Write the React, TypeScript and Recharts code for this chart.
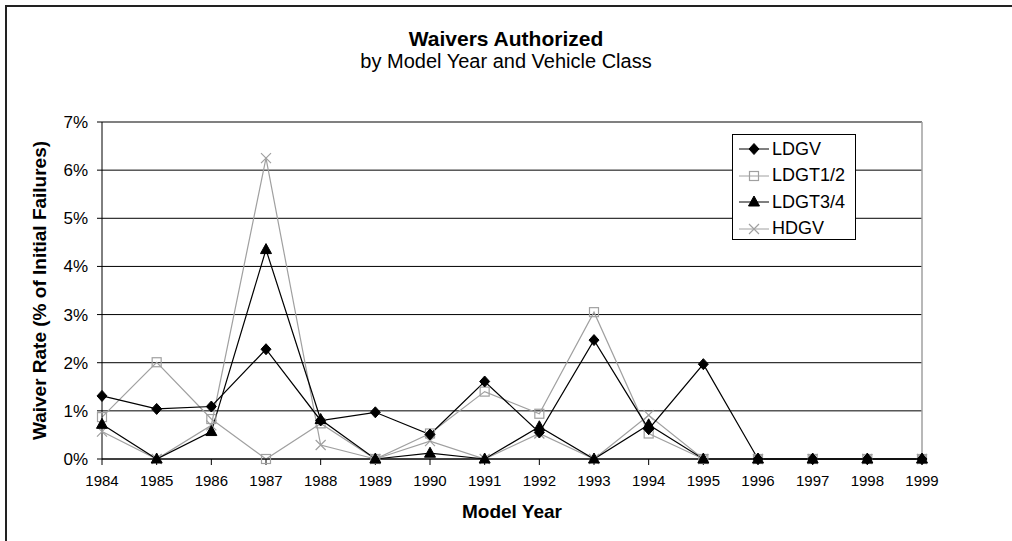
import React from 'react';
import { LineChart, Line, XAxis, YAxis, CartesianGrid, Legend, ReferenceLine } from 'recharts';

const years = ['1984', '1985', '1986', '1987', '1988', '1989', '1990', '1991', '1992', '1993', '1994', '1995', '1996', '1997', '1998', '1999'];
const ldgv = [1.31, 1.04, 1.09, 2.28, 0.8, 0.97, 0.51, 1.61, 0.55, 2.47, 0.62, 1.97, 0, 0, 0, 0];
const ldgt12 = [0.87, 2.01, 0.83, 0, 0.74, 0, 0.53, 1.4, 0.94, 3.05, 0.53, 0, 0, 0, 0, 0];
const ldgt34 = [0.72, 0, 0.57, 4.35, 0.82, 0, 0.12, 0, 0.67, 0, 0.71, 0, 0, 0, 0, 0];
const hdgv = [0.57, 0, 0.7, 6.25, 0.29, 0, 0.37, 0, 0.53, 0, 0.91, 0, 0, 0, 0, 0];
const yTicks = [0, 1, 2, 3, 4, 5, 6, 7];

const seriesNames = ['LDGV', 'LDGT1/2', 'LDGT3/4', 'HDGV'];
const seriesColors = ['#000000', '#a0a0a0', '#000000', '#a0a0a0'];

const data = years.map((y, i) => ({
    year: y,
    LDGV: ldgv[i],
    'LDGT1/2': ldgt12[i],
    'LDGT3/4': ldgt34[i],
    HDGV: hdgv[i],
}));

const FONT = '"Liberation Sans", Arial, sans-serif';

const Marker = ({ kind, cx, cy, color }: { kind: number; cx: number; cy: number; color: string }) => {
    const s = 5;
    if (kind === 0) {
        return <path d={`M${cx},${cy - s - 0.5}L${cx + s},${cy}L${cx},${cy + s + 0.5}L${cx - s},${cy}Z`} fill={color} stroke={color} />;
    }
    if (kind === 1) {
        return <rect x={cx - 4.5} y={cy - 4.5} width={9} height={9} fill="none" stroke={color} strokeWidth={1.2} />;
    }
    if (kind === 2) {
        return <path d={`M${cx},${cy - 6}L${cx + 5.5},${cy + 4}L${cx - 5.5},${cy + 4}Z`} fill={color} stroke={color} />;
    }
    return (
        <path d={`M${cx - 5},${cy - 5}L${cx + 5},${cy + 5}M${cx - 5},${cy + 5}L${cx + 5},${cy - 5}`} stroke={color} strokeWidth={1.2} fill="none" />
    );
};

const makeDot = (kind: number) => (props: any) => {
    const { cx, cy, index } = props;
    return (
        <g key={`dot-${kind}-${index}`}>
            <Marker kind={kind} cx={cx} cy={cy} color={seriesColors[kind]} />
        </g>
    );
};

const LegendBox = () => (
    <div style={{ border: '1px solid #000', background: '#fff', width: 124, height: 106, boxSizing: 'border-box', padding: '1px 0 0 5px', fontFamily: FONT, fontSize: 18 }}>
        {seriesNames.map((name, i) => (
            <div key={name} style={{ display: 'flex', alignItems: 'center', height: 26.5 }}>
                <svg width={32} height={20}>
                    <line x1={1} y1={10} x2={31} y2={10} stroke={seriesColors[i]} strokeWidth={1} />
                    <Marker kind={i} cx={16} cy={10} color={seriesColors[i]} />
                </svg>
                <span style={{ marginLeft: 2, color: '#000' }}>{name}</span>
            </div>
        ))}
    </div>
);

export default function App() {
    return (
        <div style={{ position: 'absolute', left: 0, top: 0, width: 1012, height: 541, background: '#fff', overflow: 'hidden' }}>
            <div style={{ position: 'absolute', left: 5, top: 5, width: 2000, height: 2000, borderLeft: '2px solid #222', borderTop: '2px solid #222' }} />
            <div style={{ position: 'absolute', left: 0, width: 1012, top: 27, textAlign: 'center', fontFamily: FONT, fontWeight: 'bold', fontSize: 21 }}>
                Waivers Authorized
            </div>
            <div style={{ position: 'absolute', left: 0, width: 1012, top: 50, textAlign: 'center', fontFamily: FONT, fontSize: 20 }}>
                by Model Year and Vehicle Class
            </div>
            <div style={{ position: 'absolute', left: 0, top: 0 }}>
                <LineChart width={1012} height={541} data={data} margin={{ top: 122, right: 90, bottom: 52, left: 0 }}>
                    <CartesianGrid vertical={false} stroke="#000" strokeWidth={1} />
                    <XAxis
                        dataKey="year"
                        height={30}
                        padding={{ left: 0, right: 0 }}
                        tickSize={6}
                        tickMargin={10}
                        stroke="#000"
                        tick={{ fill: '#000', fontSize: 15, fontFamily: FONT }}
                        interval={0}
                        label={{ value: 'Model Year', position: 'insideBottom', offset: -29, style: { fontFamily: FONT, fontSize: 19, fontWeight: 'bold', fill: '#000' } }}
                    />
                    <YAxis
                        width={102}
                        domain={[0, 7]}
                        ticks={yTicks}
                        tickFormatter={(v: number) => `${v}%`}
                        tickSize={5}
                        tickMargin={9}
                        stroke="#000"
                        tick={{ fill: '#000', fontSize: 17, fontFamily: FONT }}
                        label={{ value: 'Waiver Rate (% of Initial Failures)', angle: -90, position: 'insideLeft', offset: 39, style: { textAnchor: 'middle', fontFamily: FONT, fontSize: 19, fontWeight: 'bold', fill: '#000' } }}
                    />
                    <ReferenceLine y={7} stroke="#808080" strokeWidth={1.5} />
                    <ReferenceLine x="1999" stroke="#a0a0a0" strokeWidth={1.5} />
                    <Line dataKey="LDGT1/2" stroke={seriesColors[1]} strokeWidth={1.2} dot={makeDot(1)} isAnimationActive={false} />
                    <Line dataKey="HDGV" stroke={seriesColors[3]} strokeWidth={1.2} dot={makeDot(3)} isAnimationActive={false} />
                    <Line dataKey="LDGV" stroke={seriesColors[0]} strokeWidth={1.2} dot={makeDot(0)} isAnimationActive={false} />
                    <Line dataKey="LDGT3/4" stroke={seriesColors[2]} strokeWidth={1.2} dot={makeDot(2)} isAnimationActive={false} />
                    <Legend
                        layout="vertical"
                        align="center"
                        verticalAlign="middle"
                        wrapperStyle={{ left: 732, top: 134, width: 'auto', height: 'auto' }}
                        content={() => <LegendBox />}
                    />
                </LineChart>
            </div>
        </div>
    );
}
